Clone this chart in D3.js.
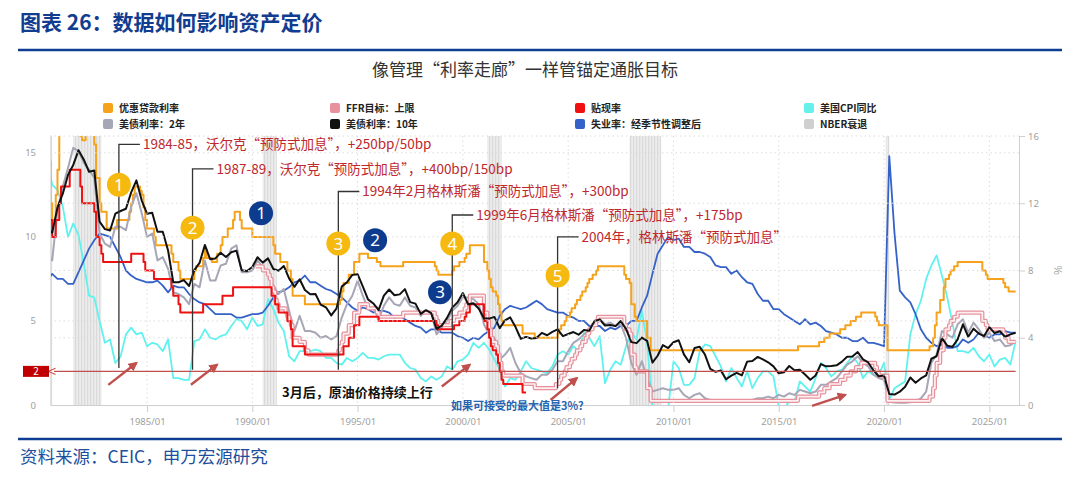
<!DOCTYPE html>
<html>
<head>
<meta charset="utf-8">
<script src="https://cdn.jsdelivr.net/npm/d3@7"></script>
<style>
  body { margin: 0; background: #fff; }
  svg text { font-family: "Noto Sans CJK SC", "Noto Sans", sans-serif; }
</style>
</head>
<body>
<svg id="chart"></svg>
<script>
// ---- data (quarterly readings Jan/Apr/Jul/Oct, starting 1980-04) ----
const quarterStart = "1980-04";

const tnx10 = [
  10.4, 10.25, 11.75,            // 1980
  12.57, 13.68, 14.28, 15.15,    // 1981
  14.59, 13.87, 13.95, 10.91,    // 1982
  10.46, 10.38, 11.38, 11.54,    // 1983
  11.67, 12.65, 13.36, 12.16,    // 1984
  11.38, 11.43, 10.31, 10.31,    // 1985
  9.19, 7.30, 7.30, 7.43,        // 1986
  7.08, 8.02, 8.45, 9.52,        // 1987
  8.67, 8.72, 9.06, 8.80,        // 1988
  9.09, 9.18, 8.02, 7.97,        // 1989
  8.21, 8.79, 8.47, 8.72,        // 1990
  8.09, 7.99, 8.27, 7.53,        // 1991
  7.03, 7.48, 6.84, 6.59,        // 1992
  6.60, 5.97, 5.81, 5.33,        // 1993
  5.75, 7.04, 7.30, 7.74,        // 1994
  7.78, 7.06, 6.28, 6.04,        // 1995
  5.65, 6.51, 6.87, 6.53,        // 1996
  6.58, 6.89, 6.12, 6.03,        // 1997
  5.42, 5.64, 5.46, 4.53,        // 1998
  4.72, 5.18, 5.79, 6.11,        // 1999
  6.66, 5.99, 6.05, 5.74,        // 2000
  5.16, 5.14, 5.24, 4.57,        // 2001
  5.04, 5.21, 4.65, 3.94,        // 2002
  4.05, 3.96, 3.98, 4.29,        // 2003
  4.15, 4.35, 4.50, 4.10,        // 2004
  4.22, 4.34, 4.18, 4.46,        // 2005
  4.42, 4.99, 5.09, 4.73,        // 2006
  4.76, 4.69, 5.00, 4.53,        // 2007
  3.74, 3.68, 4.01, 3.81,        // 2008
  2.52, 2.93, 3.56, 3.39,        // 2009
  3.73, 3.85, 3.01, 2.54,        // 2010
  3.39, 3.46, 3.00, 2.15,        // 2011
  1.97, 2.05, 1.53, 1.75,        // 2012
  1.91, 1.76, 2.58, 2.62,        // 2013
  2.86, 2.71, 2.54, 2.30,        // 2014
  1.88, 1.94, 2.32, 2.07,        // 2015
  2.09, 1.81, 1.50, 1.76,        // 2016
  2.43, 2.30, 2.32, 2.36,        // 2017
  2.58, 2.87, 2.89, 3.15,        // 2018
  2.71, 2.53, 2.06, 1.71,        // 2019
  1.76, 0.66, 0.62, 0.79,        // 2020
  1.08, 1.64, 1.32, 1.58,        // 2021
  1.76, 2.75, 2.90, 3.98,        // 2022
  3.53, 3.46, 3.90, 4.80,        // 2023
  4.06, 4.54, 4.25, 4.10,        // 2024
  4.63, 4.28, 4.39, 4.06,        // 2025
  4.20, 4.30                     // 2026
];

const tnx2 = [
  9.0, 8.6, 11.6,
  13.0, 14.1, 15.3, 15.1,
  14.4, 14.0, 13.5, 10.2,
  9.6, 9.4, 10.6, 10.6,
  10.4, 11.8, 12.6, 11.4,
  10.0, 10.2, 8.6, 8.8,
  8.1, 6.7, 6.6, 6.4,
  6.0, 7.2, 7.0, 8.6,
  7.4, 7.4, 8.3, 8.4,
  9.3, 9.5, 7.9, 7.9,
  8.0, 8.6, 8.2, 7.8,            // 1990
  7.1, 6.6, 6.9, 5.6,
  4.4, 5.3, 4.4, 4.4,
  4.3, 4.0, 4.1, 3.9,
  4.1, 5.2, 6.0, 6.5,
  7.4, 6.5, 5.7, 5.8,
  5.1, 5.9, 6.4, 6.0,
  5.9, 6.4, 5.9, 5.8,
  5.3, 5.6, 5.5, 4.2,
  4.6, 5.0, 5.6, 5.9,
  6.4, 6.4, 6.3, 6.0,            // 2000
  4.8, 4.2, 4.0, 2.7,
  3.0, 3.4, 2.5, 1.9,
  1.7, 1.6, 1.5, 1.8,
  1.8, 2.1, 2.6, 2.6,
  3.2, 3.7, 3.9, 4.2,
  4.4, 4.9, 5.1, 4.8,
  4.9, 4.7, 4.8, 4.0,
  2.5, 1.8, 2.6, 1.6,
  0.8, 0.9, 1.0, 0.9,
  0.9, 1.0, 0.6, 0.4,            // 2010
  0.6, 0.7, 0.4, 0.3,
  0.2, 0.3, 0.2, 0.3,
  0.3, 0.2, 0.3, 0.3,
  0.4, 0.4, 0.5, 0.4,
  0.6, 0.5, 0.7, 0.6,
  0.9, 0.8, 0.7, 0.8,
  1.2, 1.2, 1.4, 1.6,
  2.0, 2.4, 2.6, 2.9,
  2.5, 2.3, 1.8, 1.6,
  1.5, 0.2, 0.15, 0.14,          // 2020
  0.13, 0.16, 0.22, 0.39,
  0.8, 2.5, 3.0, 4.4,
  4.2, 4.0, 4.8, 5.1,
  4.3, 4.9, 4.5, 4.0,
  4.3, 3.8, 3.9, 3.5,
  3.55, 3.8
];

const cpiYoY = [
  14.5, 13.1, 12.8,
  11.8, 10.0, 10.8, 10.1,
  8.4, 6.5, 6.4, 5.0,
  3.7, 3.9, 2.5, 2.9,
  4.2, 4.6, 4.2, 4.3,
  3.5, 3.7, 3.6, 3.2,
  3.9, 1.6, 1.6, 1.5,
  1.5, 3.8, 3.9, 4.5,
  4.0, 3.9, 4.1, 4.2,
  4.7, 5.1, 5.0, 4.5,
  5.2, 4.7, 4.8, 6.3,            // 1990
  5.7, 4.9, 4.4, 2.9,
  2.6, 3.2, 3.2, 3.2,
  3.3, 3.2, 2.8, 2.8,
  2.5, 2.4, 2.8, 2.6,
  2.8, 3.1, 2.8, 2.8,
  2.7, 2.9, 3.0, 3.0,
  3.0, 2.5, 2.2, 2.1,
  1.6, 1.4, 1.7, 1.5,
  1.7, 2.3, 2.1, 2.6,
  2.7, 3.0, 3.7, 3.4,            // 2000
  3.7, 3.3, 2.7, 2.1,
  1.1, 1.6, 1.5, 2.0,
  2.6, 2.2, 2.1, 2.0,
  1.9, 2.3, 3.0, 3.2,
  3.0, 3.5, 3.2, 4.3,
  4.0, 3.5, 4.1, 1.3,
  2.1, 2.6, 2.4, 3.5,
  4.3, 3.9, 5.6, 3.7,
  0.0, -0.7, -2.1, -0.2,
  2.6, 2.2, 1.2, 1.2,            // 2010
  1.6, 3.2, 3.6, 3.5,
  2.9, 2.3, 1.4, 2.2,
  1.6, 1.1, 2.0, 1.0,
  1.6, 2.0, 2.0, 1.7,
  -0.1, -0.2, 0.2, 0.2,
  1.4, 1.1, 0.8, 1.6,
  2.5, 2.2, 1.7, 2.0,
  2.1, 2.5, 2.9, 2.5,
  1.6, 2.0, 1.8, 1.8,
  2.5, 0.3, 1.0, 1.2,            // 2020
  1.4, 4.2, 5.4, 6.2,
  7.5, 8.3, 8.9, 7.7,
  6.4, 4.9, 3.2, 3.2,
  3.1, 3.4, 2.9, 2.6,
  3.0, 2.3, 2.7, 2.8,
  2.4, 3.8
];

const unrate = [
  7.4, 7.8, 7.5,
  7.5, 7.2, 7.2, 7.9,
  8.6, 9.3, 9.8, 10.2,
  10.1, 10.0, 9.4, 8.8,
  8.0, 7.7, 7.5, 7.4,
  7.3, 7.3, 7.4, 7.1,
  6.7, 7.1, 7.0, 7.0,
  6.6, 6.3, 6.1, 6.0,
  5.7, 5.4, 5.4, 5.4,
  5.4, 5.2, 5.2, 5.3,
  5.4, 5.4, 5.5, 5.9,            // 1990
  6.4, 6.7, 6.8, 7.0,
  7.3, 7.4, 7.7, 7.3,
  7.3, 7.1, 6.9, 6.8,
  6.6, 6.4, 6.1, 5.8,
  5.6, 5.8, 5.7, 5.5,
  5.6, 5.6, 5.5, 5.2,
  5.3, 5.1, 4.9, 4.7,
  4.6, 4.3, 4.5, 4.5,
  4.3, 4.3, 4.3, 4.1,
  4.0, 3.8, 4.0, 3.9,            // 2000
  4.2, 4.4, 4.6, 5.3,
  5.7, 5.9, 5.8, 5.7,
  5.8, 6.0, 6.2, 6.0,
  5.7, 5.6, 5.5, 5.5,
  5.3, 5.2, 5.0, 5.0,
  4.7, 4.7, 4.7, 4.4,
  4.6, 4.5, 4.7, 4.7,
  5.0, 5.0, 5.8, 6.5,
  7.8, 9.0, 9.5, 10.0,
  9.8, 9.9, 9.4, 9.4,            // 2010
  9.1, 9.1, 9.0, 8.8,
  8.3, 8.2, 8.2, 7.8,
  8.0, 7.6, 7.3, 7.2,
  6.6, 6.2, 6.2, 5.7,
  5.7, 5.4, 5.2, 5.0,
  4.8, 5.1, 4.8, 4.9,
  4.7, 4.4, 4.3, 4.2,
  4.0, 4.0, 3.8, 3.8,
  4.0, 3.7, 3.7, 3.6,
  3.5, 14.8, 10.2, 6.8,          // 2020
  6.4, 6.1, 5.4, 4.5,
  4.0, 3.7, 3.5, 3.6,
  3.4, 3.4, 3.5, 3.9,
  3.7, 3.9, 4.3, 4.1,
  4.0, 4.2, 4.2, 4.4,
  4.3, 4.3
];

// step series: [month the rate took effect, rate]
const primeRate = [
  ["1980-05", 14.5], ["1980-06", 12], ["1980-07", 11], ["1980-09", 12.5], ["1980-10", 14], ["1980-11", 17], ["1980-12", 21.5],
  ["1981-01", 20], ["1981-03", 18], ["1981-05", 20], ["1981-10", 18], ["1981-11", 16], ["1981-12", 15.75],
  ["1982-02", 16.5], ["1982-07", 15.5], ["1982-08", 13.5], ["1982-10", 12], ["1982-11", 11.5],
  ["1983-02", 10.5], ["1983-08", 11], ["1984-03", 11.5], ["1984-04", 12], ["1984-05", 12.5], ["1984-06", 13],
  ["1984-09", 12.75], ["1984-10", 12.5], ["1984-11", 11.75], ["1984-12", 11], ["1985-01", 10.5], ["1985-05", 10], ["1985-06", 9.5],
  ["1986-03", 9], ["1986-04", 8.5], ["1986-07", 8], ["1986-08", 7.5], ["1987-04", 8], ["1987-05", 8.25], ["1987-09", 8.75],
  ["1987-10", 9.25], ["1987-11", 8.75], ["1988-02", 8.5], ["1988-05", 9], ["1988-07", 9.5], ["1988-08", 10], ["1988-11", 10.5],
  ["1989-02", 11], ["1989-03", 11.5], ["1989-06", 11], ["1989-07", 10.5], ["1990-01", 10], ["1991-01", 9.5], ["1991-02", 9],
  ["1991-05", 8.5], ["1991-09", 8], ["1991-11", 7.5], ["1991-12", 6.5], ["1992-07", 6], ["1994-03", 6.25], ["1994-04", 6.75],
  ["1994-05", 7.25], ["1994-08", 7.75], ["1994-11", 8.5], ["1995-02", 9], ["1995-07", 8.75], ["1995-12", 8.5], ["1996-02", 8.25],
  ["1997-03", 8.5], ["1998-09", 8.25], ["1998-10", 8], ["1998-11", 7.75], ["1999-07", 8], ["1999-08", 8.25], ["1999-11", 8.5],
  ["2000-02", 8.75], ["2000-03", 9], ["2000-05", 9.5], ["2001-01", 8.5], ["2001-03", 8], ["2001-04", 7.5], ["2001-05", 7],
  ["2001-06", 6.75], ["2001-08", 6.5], ["2001-09", 6], ["2001-10", 5.5], ["2001-11", 5], ["2001-12", 4.75], ["2002-11", 4.25],
  ["2003-06", 4], ["2004-07", 4.25], ["2004-08", 4.5], ["2004-09", 4.75], ["2004-11", 5], ["2004-12", 5.25], ["2005-02", 5.5],
  ["2005-03", 5.75], ["2005-05", 6], ["2005-06", 6.25], ["2005-08", 6.5], ["2005-09", 6.75], ["2005-11", 7], ["2005-12", 7.25],
  ["2006-01", 7.5], ["2006-03", 7.75], ["2006-05", 8], ["2006-06", 8.25], ["2007-09", 7.75], ["2007-10", 7.5], ["2007-12", 7.25],
  ["2008-01", 6], ["2008-03", 5.25], ["2008-04", 5], ["2008-10", 4], ["2008-12", 3.25], ["2015-12", 3.5], ["2016-12", 3.75],
  ["2017-03", 4], ["2017-06", 4.25], ["2017-12", 4.5], ["2018-03", 4.75], ["2018-06", 5], ["2018-09", 5.25], ["2018-12", 5.5],
  ["2019-08", 5.25], ["2019-09", 5], ["2019-10", 4.75], ["2020-03", 3.25], ["2022-03", 3.5], ["2022-05", 4], ["2022-06", 4.75],
  ["2022-07", 5.5], ["2022-09", 6.25], ["2022-11", 7], ["2022-12", 7.5], ["2023-02", 7.75], ["2023-03", 8], ["2023-05", 8.25],
  ["2023-07", 8.5], ["2024-09", 8], ["2024-11", 7.75], ["2024-12", 7.5], ["2025-09", 7.25], ["2025-10", 7], ["2025-12", 6.75],
  ["2026-04", 6.75]
];

const ffrUpper = [
  ["1990-03", 8.25], ["1990-07", 8], ["1990-10", 7.75], ["1990-11", 7.5], ["1990-12", 7], ["1991-01", 6.75], ["1991-02", 6.25],
  ["1991-03", 6], ["1991-04", 5.75], ["1991-08", 5.5], ["1991-09", 5.25], ["1991-10", 5], ["1991-11", 4.75], ["1991-12", 4],
  ["1992-04", 3.75], ["1992-07", 3.25], ["1992-09", 3], ["1994-02", 3.25], ["1994-03", 3.5], ["1994-04", 3.75], ["1994-05", 4.25],
  ["1994-08", 4.75], ["1994-11", 5.5], ["1995-02", 6], ["1995-07", 5.75], ["1995-12", 5.5], ["1996-01", 5.25], ["1997-03", 5.5],
  ["1998-09", 5.25], ["1998-10", 5], ["1998-11", 4.75], ["1999-06", 5], ["1999-08", 5.25], ["1999-11", 5.5], ["2000-02", 5.75],
  ["2000-03", 6], ["2000-05", 6.5], ["2001-01", 5.5], ["2001-03", 5], ["2001-04", 4.5], ["2001-05", 4], ["2001-06", 3.75],
  ["2001-08", 3.5], ["2001-09", 3], ["2001-10", 2.5], ["2001-11", 2], ["2001-12", 1.75], ["2002-11", 1.25], ["2003-06", 1],
  ["2004-06", 1.25], ["2004-08", 1.5], ["2004-09", 1.75], ["2004-11", 2], ["2004-12", 2.25], ["2005-02", 2.5], ["2005-03", 2.75],
  ["2005-05", 3], ["2005-06", 3.25], ["2005-08", 3.5], ["2005-09", 3.75], ["2005-11", 4], ["2005-12", 4.25], ["2006-01", 4.5],
  ["2006-03", 4.75], ["2006-05", 5], ["2006-06", 5.25], ["2007-09", 4.75], ["2007-10", 4.5], ["2007-12", 4.25], ["2008-01", 3],
  ["2008-03", 2.25], ["2008-04", 2], ["2008-10", 1], ["2008-12", 0.25], ["2015-12", 0.5], ["2016-12", 0.75], ["2017-03", 1],
  ["2017-06", 1.25], ["2017-12", 1.5], ["2018-03", 1.75], ["2018-06", 2], ["2018-09", 2.25], ["2018-12", 2.5], ["2019-08", 2.25],
  ["2019-09", 2], ["2019-10", 1.75], ["2020-03", 0.25], ["2022-03", 0.5], ["2022-05", 1], ["2022-06", 1.75], ["2022-07", 2.5],
  ["2022-09", 3.25], ["2022-11", 4], ["2022-12", 4.5], ["2023-02", 4.75], ["2023-03", 5], ["2023-05", 5.25], ["2023-07", 5.5],
  ["2024-09", 5], ["2024-11", 4.75], ["2024-12", 4.5], ["2025-09", 4.25], ["2025-10", 4], ["2025-12", 3.75], ["2026-04", 3.75]
];

const discountRate = [
  ["1980-05", 11], ["1980-07", 10], ["1980-09", 11], ["1980-11", 12], ["1980-12", 13], ["1981-05", 14], ["1981-11", 13],
  ["1981-12", 12], ["1982-07", 11.5], ["1982-08", 10], ["1982-10", 9.5], ["1982-11", 9], ["1982-12", 8.5], ["1984-04", 9],
  ["1984-11", 8.5], ["1984-12", 8], ["1985-05", 7.5], ["1986-03", 7], ["1986-04", 6.5], ["1986-07", 6], ["1986-08", 5.5],
  ["1987-09", 6], ["1988-08", 6.5], ["1989-02", 7], ["1990-12", 6.5], ["1991-02", 6], ["1991-04", 5.5], ["1991-09", 5],
  ["1991-11", 4.5], ["1991-12", 3.5], ["1992-07", 3], ["1994-05", 3.5], ["1994-08", 4], ["1994-11", 4.75], ["1995-02", 5.25],
  ["1996-01", 5], ["1998-10", 4.75], ["1998-11", 4.5], ["1999-08", 4.75], ["1999-11", 5], ["2000-02", 5.25], ["2000-03", 5.5],
  ["2000-05", 6], ["2001-01", 5], ["2001-03", 4.5], ["2001-04", 4], ["2001-05", 3.5], ["2001-06", 3.25], ["2001-08", 3],
  ["2001-09", 2.5], ["2001-10", 2], ["2001-11", 1.5], ["2001-12", 1.25], ["2002-11", 0.75], ["2003-01", 0.75]
];

// NBER recessions [start, end]
const recessions = [
  ["1980-01", "1980-07"], ["1981-07", "1982-11"], ["1990-07", "1991-03"],
  ["2001-03", "2001-11"], ["2007-12", "2009-06"], ["2020-02", "2020-04"]
];

const xTickYears = [1985, 1990, 1995, 2000, 2005, 2010, 2015, 2020, 2025];
const leftTicks = [0, 5, 10, 15];
const rightTicks = [0, 4, 8, 12, 16];

const legendItems = [
  { label: "优惠贷款利率", color: "#f7a21b" },
  { label: "FFR目标：上限", color: "#e8909b" },
  { label: "贴现率", color: "#f01010" },
  { label: "美国CPI同比", color: "#66f0ec" },
  { label: "美债利率：2年", color: "#a6a6b6" },
  { label: "美债利率：10年", color: "#111111" },
  { label: "失业率：经季节性调整后", color: "#3562c8" },
  { label: "NBER衰退", color: "#cfcfcf" }
];

// annotations: leader lines with red text
const hikeNotes = [
  { date: "1983-09", top: 15.5, bottom: 2.2, text: "1984-85，沃尔克“预防式加息”，+250bp/50bp" },
  { date: "1987-03", top: 14.05, bottom: 2.1, text: "1987-89，沃尔克“预防式加息”，+400bp/150bp" },
  { date: "1994-02", top: 12.7, bottom: 2.1, text: "1994年2月格林斯潘“预防式加息”，+300bp" },
  { date: "1999-07", top: 11.3, bottom: 2.1, text: "1999年6月格林斯潘“预防式加息”，+175bp" },
  { date: "2004-07", top: 10.0, bottom: 1.0, text: "2004年，格林斯潘“预防式加息”" }
];
const yellowMarks = [
  { date: "1983-09", v: 13.1, n: "1" }, { date: "1987-03", v: 10.55, n: "2" },
  { date: "1994-02", v: 9.6, n: "3" }, { date: "1999-07", v: 9.6, n: "4" }, { date: "2004-07", v: 7.7, n: "5" }
];
const blueMarks = [
  { date: "1990-06", v: 11.4, n: "1" }, { date: "1995-11", v: 9.8, n: "2" }, { date: "1998-12", v: 6.7, n: "3" }
];
const arrows = [
  [["1983-03", 1.2], ["1984-07", 2.5]],
  [["1987-02", 1.2], ["1988-05", 2.4]],
  [["1999-01", 1.1], ["2000-05", 2.4]],
  [["2004-03", 0.3], ["2005-06", 1.6]],
  [["2016-08", -0.05], ["2018-03", 0.6]]
];

// ---- drawing ----
const W = 1080, H = 479;
const parse = d3.timeParse("%Y-%m");
const svg = d3.select("#chart").attr("width", W).attr("height", H);

const x = d3.scaleTime()
  .domain([new Date(1980, 4, 24), new Date(2026, 4, 30)])
  .range([50, 1019]);
const y = d3.scaleLinear().domain([0, 16]).range([405, 136]);

const defs = svg.append("defs");
defs.append("clipPath").attr("id", "plotClip")
  .append("rect").attr("x", 50).attr("y", 136).attr("width", 969).attr("height", 269);
const hatch = defs.append("pattern").attr("id", "nberHatch")
  .attr("width", 3).attr("height", 6).attr("patternUnits", "userSpaceOnUse");
hatch.append("rect").attr("width", 3).attr("height", 6).attr("fill", "#ececec");
hatch.append("line").attr("x1", 0.7).attr("x2", 0.7).attr("y1", 0).attr("y2", 6)
  .attr("stroke", "#d4d4d4").attr("stroke-width", 0.9);
defs.append("marker").attr("id", "arrRed").attr("viewBox", "0 0 10 10")
  .attr("refX", 8).attr("refY", 5).attr("markerWidth", 4).attr("markerHeight", 4)
  .attr("orient", "auto-start-reverse")
  .append("path").attr("d", "M0,0 L10,5 L0,10 z").attr("fill", "#c0504d");
defs.append("marker").attr("id", "arrLine").attr("viewBox", "0 0 10 10")
  .attr("refX", 2).attr("refY", 5).attr("markerWidth", 6).attr("markerHeight", 6)
  .attr("orient", "auto-start-reverse")
  .append("path").attr("d", "M0,1 L9,5 L0,9").attr("fill", "none").attr("stroke", "#c0504d").attr("stroke-width", 1.4);

// header
svg.append("text").attr("x", 20).attr("y", 30)
  .attr("font-size", 21).attr("font-weight", "bold").attr("fill", "#123c8f")
  .text("图表 26：数据如何影响资产定价");
svg.append("line").attr("x1", 18).attr("x2", 1062).attr("y1", 50).attr("y2", 50)
  .attr("stroke", "#0e3d94").attr("stroke-width", 2.5);
svg.append("text").attr("x", 525).attr("y", 76).attr("text-anchor", "middle")
  .attr("font-size", 17).attr("fill", "#333")
  .text("像管理“利率走廊”一样管锚定通胀目标");

// legend, 4 columns x 2 rows
const legCols = [103, 330, 575, 804];
const legend = svg.append("g");
legendItems.forEach((d, i) => {
  const g = legend.append("g")
    .attr("transform", `translate(${legCols[i % 4]},${i < 4 ? 103 : 119})`);
  g.append("rect").attr("width", 10).attr("height", 10).attr("rx", 2).attr("fill", d.color);
  g.append("text").attr("x", 16).attr("y", 9).attr("font-size", 10)
    .attr("font-weight", "bold").attr("fill", "#222").text(d.label);
});

// recession bands
const plot = svg.append("g").attr("clip-path", "url(#plotClip)");
plot.selectAll(".nber").data(recessions).join("rect")
  .attr("x", d => x(parse(d[0])))
  .attr("width", d => x(parse(d[1])) - x(parse(d[0])))
  .attr("y", 136).attr("height", 269)
  .attr("fill", "url(#nberHatch)");

// gridlines
const grid = svg.append("g").attr("stroke", "#dcdcdc").attr("stroke-dasharray", "1.5,3");
grid.selectAll(".hg").data(Array.from(new Set([...leftTicks, ...rightTicks])).filter(v => v > 0)).join("line")
  .attr("x1", 50).attr("x2", 1019).attr("y1", d => y(d)).attr("y2", d => y(d));
grid.selectAll(".vg").data(xTickYears).join("line")
  .attr("x1", d => x(new Date(d, 0, 1))).attr("x2", d => x(new Date(d, 0, 1)))
  .attr("y1", 136).attr("y2", 405);

// axes
const xAxisG = svg.append("g").attr("transform", "translate(0,405)")
  .call(d3.axisBottom(x).tickValues(xTickYears.map(yr => new Date(yr, 0, 1)))
    .tickFormat(d3.timeFormat("%Y/%m")).tickSize(7).tickPadding(6).tickSizeOuter(0));
const yAxisL = svg.append("g").attr("transform", "translate(50,0)")
  .call(d3.axisLeft(y).tickValues(leftTicks).tickSize(0).tickPadding(14));
const yAxisR = svg.append("g").attr("transform", "translate(1019,0)")
  .call(d3.axisRight(y).tickValues(rightTicks).tickSize(6).tickPadding(3).tickSizeOuter(0));
[xAxisG, yAxisL, yAxisR].forEach(g => {
  g.selectAll("path, line").attr("stroke", "#cfcfcf");
  g.selectAll("text").attr("fill", "#a0a0a0").attr("font-size", 9.5)
    .style("font-family", "'Noto Sans', sans-serif");
});
yAxisL.select(".domain").attr("stroke", "#e2e2e2");
svg.append("text").attr("transform", "translate(1054,270) rotate(90)")
  .attr("text-anchor", "middle").attr("font-size", 10).attr("fill", "#a0a0a0").text("%");

// series
const qDates = n => d3.range(n).map(i => d3.timeMonth.offset(parse(quarterStart), 3 * i));
const lineQ = d3.line().x(d => x(d[0])).y(d => y(d[1]));
const lineStep = d3.line().curve(d3.curveStepAfter).x(d => x(d[0])).y(d => y(d[1]));
const zipQ = arr => { const ds = qDates(arr.length); return arr.map((v, i) => [ds[i], v]); };
const stepPts = arr => arr.map(d => [parse(d[0]), d[1]]);

function drawLine(pts, gen, color, w, opacity) {
  plot.append("path").datum(pts).attr("d", gen)
    .attr("fill", "none").attr("stroke", color).attr("stroke-width", w)
    .attr("stroke-linejoin", "round").attr("opacity", opacity || 1);
}

drawLine(zipQ(cpiYoY), lineQ, "#5ff2ee", 1.8);
drawLine(zipQ(unrate), lineQ, "#3562c8", 1.8);
drawLine(stepPts(primeRate), lineStep, "#f7a21b", 2);
drawLine(zipQ(tnx2), lineQ, "#a6a6b6", 2);
// FFR upper drawn as a hollow pink stroke
drawLine(stepPts(ffrUpper), lineStep, "#e6919c", 4.2);
drawLine(stepPts(ffrUpper), lineStep, "#fdf0f2", 1.7);
drawLine(stepPts(discountRate), lineStep, "#ee1111", 2);
drawLine(zipQ(tnx10), lineQ, "#111111", 2);

// 2% reference line
svg.append("line")
  .attr("x1", x(new Date(1980, 7, 1))).attr("x2", x(new Date(2026, 3, 1)))
  .attr("y1", y(2)).attr("y2", y(2))
  .attr("stroke", "#c0504d").attr("stroke-width", 1.3)
  .attr("marker-start", "url(#arrLine)");
svg.append("rect").attr("x", 23).attr("y", y(2) - 5.5).attr("width", 26).attr("height", 11)
  .attr("fill", "#c00000");
svg.append("text").attr("x", 36).attr("y", y(2) + 3.5).attr("text-anchor", "middle")
  .attr("font-size", 10).attr("fill", "#fff").text("2");

// hike annotations
const notes = svg.append("g");
hikeNotes.forEach(d => {
  const cx = x(parse(d.date));
  notes.append("polyline")
    .attr("points", `${cx},${y(d.bottom)} ${cx},${y(d.top)} ${cx + 21},${y(d.top)}`)
    .attr("fill", "none").attr("stroke", "#333").attr("stroke-width", 1.3);
  notes.append("text").attr("x", cx + 24).attr("y", y(d.top) + 5)
    .attr("font-size", 13.5).attr("fill", "#c0282d").text(d.text);
});

// red arrows
arrows.forEach(a => {
  svg.append("line")
    .attr("x1", x(parse(a[0][0]))).attr("y1", y(a[0][1]))
    .attr("x2", x(parse(a[1][0]))).attr("y2", y(a[1][1]))
    .attr("stroke", "#c0504d").attr("stroke-width", 2.4)
    .attr("marker-end", "url(#arrRed)");
});

// numbered circles
function drawMarks(list, fill) {
  list.forEach(d => {
    const g = svg.append("g").attr("transform", `translate(${x(parse(d.date))},${y(d.v)})`);
    g.append("circle").attr("r", 12).attr("fill", fill);
    g.append("text").attr("y", 6).attr("text-anchor", "middle").attr("font-size", 17)
      .attr("fill", "#fff").style("font-family", "'Noto Sans', sans-serif").text(d.n);
  });
}
drawMarks(yellowMarks, "#f6b90f");
drawMarks(blueMarks, "#0d3c8e");

svg.append("text").attr("x", 282).attr("y", 397).attr("font-size", 13)
  .attr("font-weight", "bold").attr("fill", "#111").text("3月后，原油价格持续上行");
svg.append("text").attr("x", 451).attr("y", 410).attr("font-size", 11)
  .attr("font-weight", "bold").attr("fill", "#2463b0").text("如果可接受的最大值是3%?");

// footer
svg.append("line").attr("x1", 18).attr("x2", 1062).attr("y1", 439).attr("y2", 439)
  .attr("stroke", "#0e3d94").attr("stroke-width", 2.5);
svg.append("text").attr("x", 20).attr("y", 463).attr("font-size", 17.5).attr("fill", "#1d4f9c")
  .text("资料来源：CEIC，申万宏源研究");
</script>
</body>
</html>
